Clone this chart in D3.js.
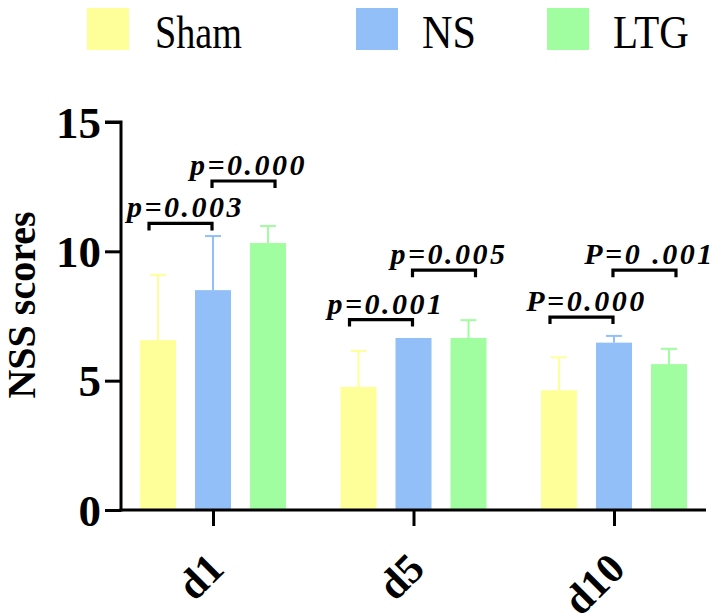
<!DOCTYPE html>
<html>
<head>
<meta charset="utf-8">
<script src="https://cdn.jsdelivr.net/npm/d3@7"></script>
<style>
  html, body { margin: 0; padding: 0; background: #fff; }
  svg { display: block; }
</style>
</head>
<body>
<svg id="chart" width="714" height="613"></svg>
<script>
// ---- data ----
const categories = ["d1", "d5", "d10"];
const seriesNames = ["Sham", "NS", "LTG"];
const shamMean = [6.57, 4.76, 4.63];
const shamErr  = [2.52, 1.39, 1.27];
const nsMean   = [8.50, 6.65, 6.47];
const nsErr    = [2.09, 0.00, 0.26];
const ltgMean  = [10.32, 6.65, 5.64];
const ltgErr   = [0.66, 0.69, 0.59];
const yTicks = [0, 5, 10, 15];
// significance annotations
const sigCategory = ["d1", "d1", "d5", "d5", "d10", "d10"];
const sigFrom     = ["Sham", "NS", "Sham", "NS", "Sham", "NS"];
const sigTo       = ["NS", "LTG", "NS", "LTG", "NS", "LTG"];
const sigLevel    = [11.08, 12.72, 7.36, 9.27, 7.46, 9.27];
const sigLabel    = ["p=0.003", "p=0.000", "p=0.001", "p=0.005", "P=0.000", "P=0 .001"];

const FONT = "'Liberation Serif', 'Times New Roman', serif";
const colors = { Sham: "#ffff9a", NS: "#92bff8", LTG: "#a0fea0" };
const means = { Sham: shamMean, NS: nsMean, LTG: ltgMean };
const errs = { Sham: shamErr, NS: nsErr, LTG: ltgErr };

const svg = d3.select("#chart");
const x0 = 121, x1 = 706, yBottom = 510, yTop = 122;

const x = d3.scalePoint().domain(categories).range([x0, x1]).padding(0.459);
const xs = d3.scalePoint().domain(seriesNames).range([-55, 55]);
const y = d3.scaleLinear().domain([0, 15]).range([yBottom, yTop]);
const barW = 36;

// bars
const rows = [];
categories.forEach((c, i) => seriesNames.forEach(s => rows.push({ c, s, v: means[s][i], e: errs[s][i] })));

svg.append("g").selectAll("rect").data(rows).join("rect")
  .attr("x", d => x(d.c) + xs(d.s) - barW / 2)
  .attr("y", d => y(d.v))
  .attr("width", barW)
  .attr("height", d => y(0) - y(d.v))
  .attr("fill", d => colors[d.s]);

// error bars
const eg = svg.append("g").selectAll("g").data(rows.filter(d => d.e > 0)).join("g")
  .attr("stroke", d => colors[d.s]).attr("stroke-width", 2);
eg.append("line")
  .attr("x1", d => x(d.c) + xs(d.s)).attr("x2", d => x(d.c) + xs(d.s))
  .attr("y1", d => y(d.v)).attr("y2", d => y(d.v + d.e));
eg.append("line")
  .attr("x1", d => x(d.c) + xs(d.s) - 8).attr("x2", d => x(d.c) + xs(d.s) + 8)
  .attr("y1", d => y(d.v + d.e)).attr("y2", d => y(d.v + d.e));

// axes
const yAxis = svg.append("g").attr("transform", `translate(${x0},0)`)
  .call(d3.axisLeft(y).tickValues(yTicks).tickSize(16).tickPadding(4));
const xAxis = svg.append("g").attr("transform", `translate(0,${yBottom})`)
  .call(d3.axisBottom(x).tickSize(16).tickFormat(""));
[yAxis, xAxis].forEach(g => {
  g.select(".domain").attr("stroke", "#000").attr("stroke-width", 3);
  g.selectAll(".tick line").attr("stroke", "#000").attr("stroke-width", 3);
});
xAxis.select(".domain").attr("d", `M${x0 - 1.5},0H${x1}`);
yAxis.select(".domain").attr("d", `M-16,${yTop}H0V${yBottom + 1.5}`);
yAxis.selectAll(".tick text")
  .style("font-family", FONT)
  .attr("font-size", 45).attr("font-weight", "bold").attr("fill", "#000")
  .attr("dy", "0.34em");

// x labels
svg.append("g").selectAll("text").data(categories).join("text")
  .attr("transform", d => `translate(${x(d) + 13},571) rotate(-45)`)
  .attr("text-anchor", "end")
  .style("font-family", FONT)
  .attr("font-size", 42).attr("font-weight", "bold")
  .text(d => d);

// y axis label
svg.append("text")
  .attr("transform", "translate(35,305) rotate(-90)")
  .attr("text-anchor", "middle")
  .style("font-family", FONT)
  .attr("font-size", 40).attr("font-weight", "bold")
  .text("NSS scores");

// significance brackets
const sig = sigCategory.map((c, i) => ({ c, from: sigFrom[i], to: sigTo[i], lvl: sigLevel[i], label: sigLabel[i] }));
const sg = svg.append("g");
sig.forEach(d => {
  const left = d.from === "Sham" ? x(d.c) + xs(d.from) - 9 : x(d.c) + xs(d.from) - 1;
  const right = d.from === "Sham" ? x(d.c) + xs(d.to) - 1 : x(d.c) + xs(d.to) + 7;
  const yy = y(d.lvl);
  sg.append("path")
    .attr("d", `M${left},${yy + 7}V${yy}H${right}V${yy + 7}`)
    .attr("fill", "none").attr("stroke", "#000").attr("stroke-width", 3.2);
  sg.append("text")
    .attr("x", (left + right) / 2 + 5).attr("y", yy - 6)
    .attr("text-anchor", "middle")
    .style("font-family", FONT)
    .attr("font-size", 30).attr("font-weight", "bold").attr("font-style", "italic")
    .attr("letter-spacing", 2.5)
    .text(d.label);
});

// legend
const legX = [87, 356, 547];
const legW = [87, 54, 76];
const lg = svg.append("g").selectAll("g").data(seriesNames).join("g")
  .attr("transform", (d, i) => `translate(${legX[i]},8)`);
lg.append("rect").attr("width", 42).attr("height", 42).attr("fill", d => colors[d]);
lg.append("text").attr("x", (d, i) => i === 0 ? 68 : 66).attr("y", 40)
  .style("font-family", FONT)
  .attr("font-size", 46)
  .attr("textLength", (d, i) => legW[i])
  .attr("lengthAdjust", "spacingAndGlyphs")
  .text(d => d);
</script>
</body>
</html>
